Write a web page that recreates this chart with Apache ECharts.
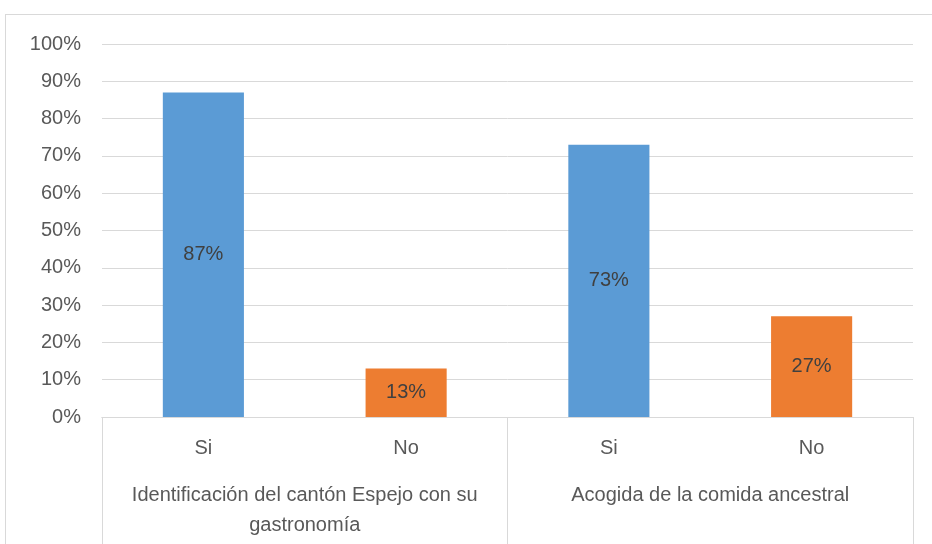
<!DOCTYPE html>
<html>
<head>
<meta charset="utf-8">
<script src="https://cdn.jsdelivr.net/npm/echarts@6/dist/echarts.min.js"></script>
<style>
  html, body { margin: 0; padding: 0; overflow: hidden; background: #fff; }
  #frame {
    position: absolute; left: 5px; top: 14px;
    width: 1000px; height: 600px;
    border: 1px solid #d9d9d9; box-sizing: border-box;
  }
  #chart { position: absolute; left: 0; top: 0; width: 932px; height: 544px; }
</style>
</head>
<body>
<div id="frame"></div>
<div id="chart"></div>
<script>
// respuestas por pregunta
const answers = ['Si', 'No', 'Si', 'No']
const groups = ['Identificación del cantón Espejo con su\ngastronomía', 'Acogida de la comida ancestral']
const percents = [87, 13, 73, 27]
const yTicks = [0, 10, 20, 30, 40, 50, 60, 70, 80, 90, 100]

const colorFor = { Si: '#5b9bd5', No: '#ed7d31' }
const font = 'Liberation Sans'

const chart = echarts.init(document.getElementById('chart'))

chart.setOption({
  animation: false,
  grid: { left: 102, right: 19, top: 44, bottom: 127 },
  xAxis: [
    {
      type: 'category',
      data: answers,
      axisLine: { lineStyle: { color: '#d9d9d9', width: 1 } },
      axisTick: { show: false },
      axisLabel: { color: '#595959', fontSize: 20, fontFamily: font, margin: 21 },
    },
    {
      type: 'category',
      data: groups,
      position: 'bottom',
      axisLine: { lineStyle: { color: '#d9d9d9', width: 1 } },
      axisTick: { show: true, length: 130, lineStyle: { color: '#d9d9d9' } },
      axisLabel: {
        color: '#595959', fontSize: 20, fontFamily: font,
        margin: 63, lineHeight: 30, interval: 0,
      },
    },
  ],
  yAxis: {
    type: 'value',
    min: yTicks[0],
    max: yTicks[yTicks.length - 1],
    interval: 10,
    axisLine: { show: false },
    axisTick: { show: false },
    splitLine: { lineStyle: { color: '#d9d9d9', width: 1 } },
    axisLabel: {
      color: '#595959', fontSize: 20, fontFamily: font, margin: 21,
      formatter: (v) => v + '%',
    },
  },
  series: [
    {
      type: 'bar',
      xAxisIndex: 0,
      barWidth: '40%',
      data: percents.map((v, i) => ({ value: v, itemStyle: { color: colorFor[answers[i]] } })),
      label: {
        show: true,
        position: 'inside',
        color: '#404040',
        fontSize: 20,
        fontFamily: font,
        formatter: (p) => p.value + '%',
      },
    },
  ],
})
</script>
</body>
</html>
